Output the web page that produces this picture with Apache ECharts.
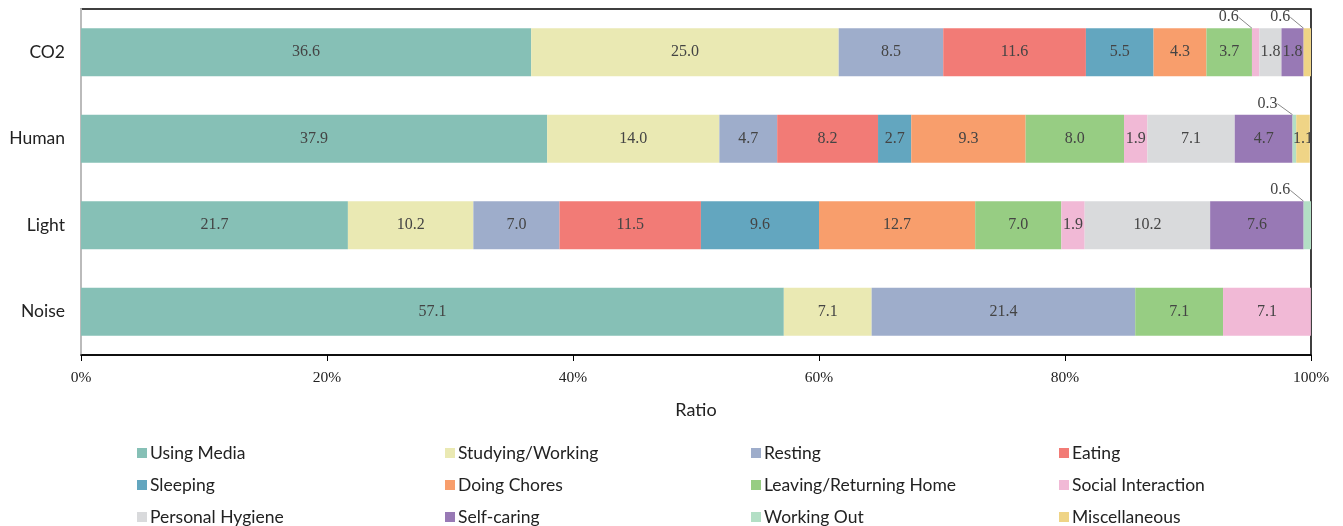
<!DOCTYPE html>
<html><head><meta charset="utf-8">
<script src="https://cdn.jsdelivr.net/npm/echarts@6/dist/echarts.min.js"></script>
<style>html,body{margin:0;padding:0;background:#fff}#c{width:1343px;height:526px}</style>
</head><body><div id="c"></div>
<script>
const categories = ['CO2', 'Human', 'Light', 'Noise'];
const activities = ['Using Media','Studying/Working','Resting','Eating','Sleeping','Doing Chores','Leaving/Returning Home','Social Interaction','Personal Hygiene','Self-caring','Working Out','Miscellaneous'];
// values per activity, in order CO2, Human, Light, Noise
const usingMedia   = [36.6, 37.9, 21.7, 57.14];
const studying     = [25.0, 14.0, 10.2, 7.14];
const resting      = [8.5, 4.7, 7.0, 21.43];
const eating       = [11.6, 8.2, 11.5, 0];
const sleeping     = [5.5, 2.7, 9.6, 0];
const chores       = [4.3, 9.3, 12.7, 0];
const leaving      = [3.7, 8.0, 7.0, 7.14];
const social       = [0.6, 1.9, 1.9, 7.14];
const hygiene      = [1.8, 7.1, 10.2, 0];
const selfCaring   = [1.8, 4.7, 7.6, 0];
const workingOut   = [0, 0.3, 0.6, 0];
const misc         = [0.6, 1.1, 0, 0];
const xTicks = [0, 20, 40, 60, 80, 100];

const seriesValues = [usingMedia, studying, resting, eating, sleeping, chores, leaving, social, hygiene, selfCaring, workingOut, misc];
const colors = ['#86C0B6','#EAE9B3','#9EADCB','#F27B76','#63A6BF','#F89E6C','#97CD83','#F1B9D6','#D9DADC','#9879B5','#B3DFC5','#EFD486'];

const chart = echarts.init(document.getElementById('c'));
const labelFont = 'Liberation Serif';
const textFont = 'Lato';
const fmt = p => { const v = Number(p.value); return v === 0 ? '' : v.toFixed(1); };
const series = activities.map((name, i) => ({
  name, type: 'bar', stack: 'all', barWidth: 48,
  data: seriesValues[i].map(v => (v > 0 && v < 1) ? { value: v, label: { position: 'top' } } : v),
  itemStyle: { color: colors[i] },
  label: {
    show: true, position: 'inside', color: '#444', fontFamily: labelFont, fontSize: 16,
    formatter: fmt
  },
  labelLayout: function (params) {
    const v = seriesValues[i][params.dataIndex];
    if (v > 0 && v < 1) {
      const r = params.rect;
      return { x: r.x + r.width / 2 - 27, y: r.y - 11, align: 'center', verticalAlign: 'middle' };
    }
    return {};
  },
  labelLine: { show: true, lineStyle: { color: '#888', width: 1 }, length2: 0 },
  emphasis: { disabled: true }
}));

const legendColLeft = [137, 445, 751, 1059];
const legendRowTop = [444, 476, 508];
const legends = activities.map((name, j) => ({
  orient: 'horizontal', left: legendColLeft[j % 4], top: legendRowTop[Math.floor(j / 4)], padding: 0,
  itemWidth: 10, itemHeight: 10, itemGap: 0,
  icon: 'rect', selectedMode: false,
  data: [name],
  textStyle: { fontFamily: textFont, fontSize: 17.5, color: '#222', lineHeight: 16, padding: [0,0,0,-2] }
}));

chart.setOption({
  animation: false,
  color: colors,
  grid: { left: 81, right: 32, top: 9, bottom: 171, show: true, borderColor: '#000', borderWidth: 1.5, containLabel: false },
  legend: legends,
  xAxis: {
    type: 'value', min: 0, max: 100, interval: 20,
    name: 'Ratio', nameLocation: 'middle', nameGap: 46,
    nameTextStyle: { fontFamily: textFont, fontSize: 18, color: '#222' },
    axisLine: { show: true, lineStyle: { color: '#000', width: 1.5 } },
    axisTick: { show: true, length: 6, lineStyle: { color: '#000' } },
    splitLine: { show: false },
    axisLabel: { formatter: v => v + '%', fontFamily: labelFont, fontSize: 15.5, color: '#222', margin: 15 }
  },
  yAxis: {
    type: 'category', data: categories, inverse: true,
    axisLine: { show: true, lineStyle: { color: '#bbb', width: 2 } },
    axisTick: { show: false },
    axisLabel: { fontFamily: textFont, fontSize: 17.5, color: '#222', margin: 16 }
  },
  series
});
</script></body></html>
